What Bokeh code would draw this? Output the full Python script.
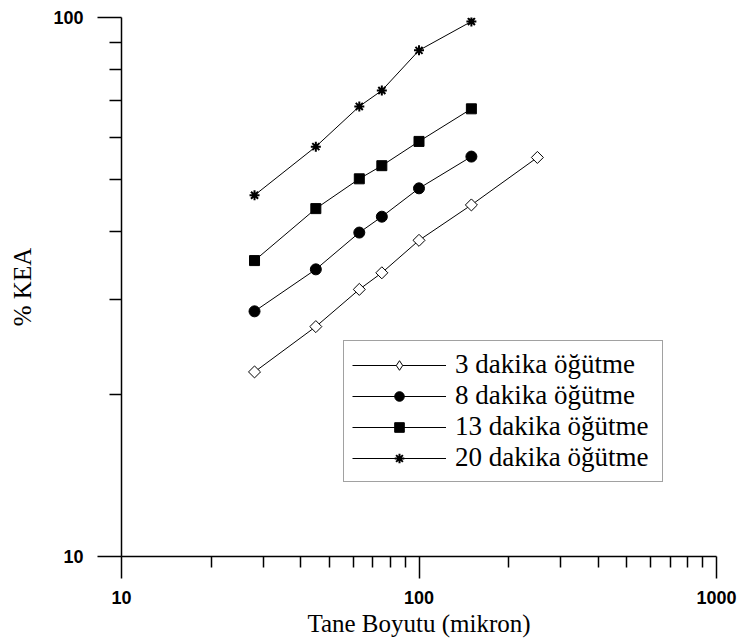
import numpy as np
from bokeh.plotting import figure
from bokeh.models import Range1d, FixedTicker, Legend, LegendItem, PrintfTickFormatter
from bokeh.embed import file_html
from bokeh.resources import INLINE

# ---- data ----
size_3min = [28, 45, 63, 75, 100, 150, 250]
kea_3min = [22.0, 26.7, 31.3, 33.6, 38.6, 44.9, 55.0]

size_other = [28, 45, 63, 75, 100, 150]
kea_8min = [28.5, 34.1, 39.9, 42.7, 48.2, 55.2]
kea_13min = [35.4, 44.2, 50.2, 53.1, 58.9, 67.7]
kea_20min = [46.8, 57.6, 68.4, 73.2, 86.9, 98.3]

series_labels = ["3 dakika öğütme", "8 dakika öğütme",
                 "13 dakika öğütme", "20 dakika öğütme"]

x_major = [10, 100, 1000]
x_minor = [20, 30, 40, 50, 60, 70, 80, 90, 200, 300, 400, 500, 600, 700, 800, 900]
y_major = [10, 100]
y_minor = [20, 30, 40, 50, 60, 70, 80, 90]

x_title = "Tane Boyutu (mikron)"
y_title = "% KEA"

p = figure(width=739, height=642, x_axis_type="log", y_axis_type="log",
           x_range=Range1d(10, 1000), y_range=Range1d(10, 100),
           output_backend="svg", toolbar_location=None,
           min_border_left=121, min_border_right=23,
           min_border_top=17, min_border_bottom=86)

p.outline_line_color = None
p.grid.visible = False
p.background_fill_color = "white"
p.border_fill_color = "white"

p.xaxis.ticker = FixedTicker(ticks=x_major, minor_ticks=x_minor)
p.yaxis.ticker = FixedTicker(ticks=y_major, minor_ticks=y_minor)
p.xaxis.formatter = PrintfTickFormatter(format="%d")
p.yaxis.formatter = PrintfTickFormatter(format="%d")

for ax in (p.xaxis, p.yaxis):
    ax.axis_line_color = "black"
    ax.axis_line_width = 1.5
    ax.major_tick_line_color = "black"
    ax.major_tick_line_width = 1.5
    ax.minor_tick_line_color = "black"
    ax.minor_tick_line_width = 1.5
    ax.major_tick_in = 0
    ax.minor_tick_in = 0
    ax.major_label_text_font = "Liberation Sans"
    ax.major_label_text_font_style = "bold"
    ax.major_label_text_font_size = "18px"
    ax.major_label_text_color = "black"
    ax.axis_label_text_font = "Liberation Serif"
    ax.axis_label_text_font_style = "normal"
    ax.axis_label_text_font_size = "25px"
    ax.axis_label_text_color = "black"

p.xaxis.major_tick_out = 22
p.xaxis.minor_tick_out = 11
p.xaxis.major_label_standoff = 12
p.xaxis.axis_label = x_title
p.xaxis.axis_label_standoff = 3

p.yaxis.major_tick_out = 24
p.yaxis.minor_tick_out = 12
p.yaxis.major_label_standoff = 14
p.yaxis.axis_label = y_title
p.yaxis.axis_label_standoff = 14

# ---- series ----
l3 = p.line(size_3min, kea_3min, line_color="black", line_width=1)
m3 = p.scatter(size_3min, kea_3min, marker="square", angle=np.pi / 4, size=8.5,
               fill_color="white", line_color="black", line_width=1)
# legend swatch for the open diamond (no data points of its own)
k3 = p.scatter([np.nan], [np.nan], marker="diamond", size=12,
               fill_color="white", line_color="black", line_width=1)

l8 = p.line(size_other, kea_8min, line_color="black", line_width=1)
m8 = p.scatter(size_other, kea_8min, marker="circle", size=11,
               fill_color="black", line_color="black")

l13 = p.line(size_other, kea_13min, line_color="black", line_width=1)
m13 = p.scatter(size_other, kea_13min, marker="square", size=10,
                fill_color="black", line_color="black")

l20 = p.line(size_other, kea_20min, line_color="black", line_width=1)
m20 = p.scatter(size_other, kea_20min, marker="asterisk", size=10,
                line_color="black", line_width=2)

legend = Legend(items=[
    LegendItem(label=series_labels[0], renderers=[l3, k3]),
    LegendItem(label=series_labels[1], renderers=[l8, m8]),
    LegendItem(label=series_labels[2], renderers=[l13, m13]),
    LegendItem(label=series_labels[3], renderers=[l20, m20]),
], location=(222, 74))
legend.glyph_width = 94
legend.glyph_height = 24
legend.label_height = 31
legend.label_width = 199
legend.label_standoff = 9
legend.padding = 8
legend.spacing = 0
legend.margin = 0
legend.label_text_font = "Liberation Serif"
legend.label_text_font_size = "27px"
legend.label_text_color = "black"
legend.border_line_color = "#444444"
legend.border_line_width = 1
legend.background_fill_color = "white"
legend.background_fill_alpha = 1
p.add_layout(legend, "center")

open("out.html", "w").write(file_html(p, INLINE))
